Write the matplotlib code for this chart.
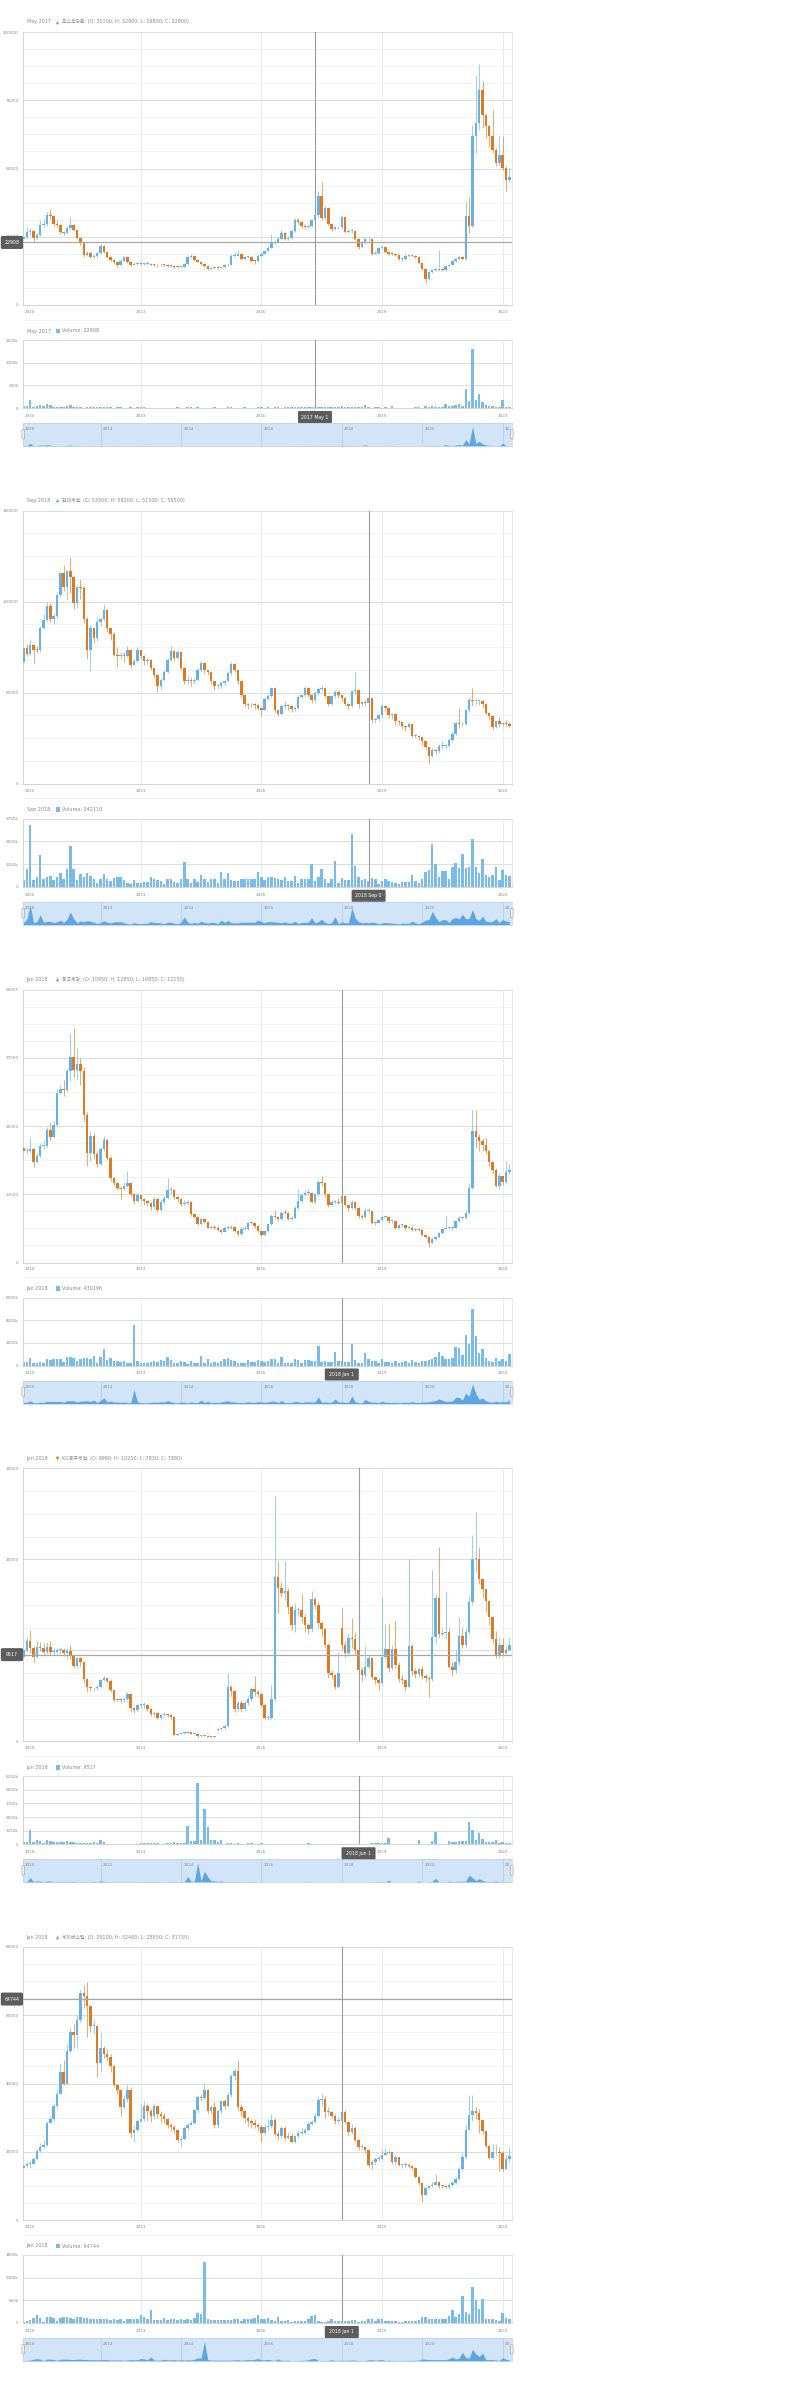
import matplotlib.pyplot as plt
import numpy as np
from matplotlib.patches import FancyBboxPatch, Rectangle

plt.rcParams['font.family'] = ['DejaVu Sans', 'Noto Sans CJK KR']

# monthly candles Feb 2010 .. Mar 2022, prices in thousand won, volume in thousand shares
# opens follow the previous month's close unless listed in *_gaps

posco_first_open = 24.0
posco_gaps = {}
posco_close = [24.9, 26.7, 27.2, 24.5, 25.7, 29.4, 29.7, 33.0, 32.5, 29.8,
               29.4, 26.6, 26.3, 28.1, 29.3, 27.6, 24.5, 22.7, 18.4, 19.0,
               17.6, 18.0, 19.0, 21.5, 19.3, 17.6, 16.6, 15.6, 14.5, 16.3,
               17.5, 15.8, 14.8, 15.0, 15.1, 15.0, 15.0, 15.2, 14.8, 14.7,
               14.5, 14.8, 14.7, 14.3, 14.2, 14.0, 13.8, 14.0, 15.0, 17.6,
               17.8, 16.6, 15.9, 15.1, 14.4, 13.2, 13.5, 13.8, 13.7, 13.8,
               14.5, 14.8, 18.0, 18.1, 18.8, 16.9, 17.6, 17.7, 16.2, 16.0,
               18.0, 18.8, 19.7, 20.9, 22.7, 23.0, 24.2, 26.4, 24.2, 24.4,
               27.0, 31.2, 30.3, 28.8, 28.6, 28.8, 31.1, 32.9, 40.0, 31.9,
               35.5, 29.8, 27.8, 28.4, 28.4, 32.1, 26.7, 27.0, 27.2, 24.2,
               21.2, 22.7, 24.0, 24.2, 18.8, 19.0, 20.9, 21.1, 19.3, 18.8,
               18.6, 18.3, 16.8, 16.8, 18.0, 18.0, 18.0, 17.5, 15.4, 13.2,
               9.5, 12.0, 12.7, 12.8, 12.9, 12.8, 14.2, 14.8, 16.0, 16.8,
               17.6, 16.8, 32.7, 28.8, 62.0, 66.7, 78.6, 69.7, 65.4, 61.8,
               56.9, 52.0, 55.0, 50.2, 45.7, 46.9]
posco_high = [26.0, 28.5, 28.2, 27.6, 26.3, 31.0, 31.5, 34.2, 35.0, 33.0,
              31.0, 29.8, 27.2, 28.8, 32.3, 29.8, 28.0, 25.0, 23.0, 19.8,
              19.3, 18.5, 19.5, 22.5, 21.8, 19.6, 17.9, 17.0, 15.9, 16.8,
              18.0, 17.8, 16.0, 15.6, 15.6, 15.5, 15.4, 15.7, 15.5, 15.1,
              15.0, 15.3, 15.2, 15.0, 14.6, 14.5, 14.3, 14.4, 15.5, 18.2,
              18.5, 18.2, 17.0, 16.2, 15.4, 14.7, 13.9, 14.2, 14.3, 14.2,
              14.9, 15.3, 18.6, 19.3, 20.0, 19.2, 18.1, 18.3, 18.0, 16.6,
              18.5, 19.4, 20.3, 21.5, 26.0, 23.8, 24.8, 27.5, 26.8, 25.2,
              28.0, 32.0, 31.8, 30.8, 29.5, 29.5, 31.5, 32.9, 41.6, 44.9,
              36.5, 35.8, 30.0, 29.0, 29.0, 33.0, 32.3, 27.8, 28.3, 27.5,
              24.5, 23.3, 24.8, 25.0, 24.3, 19.8, 21.3, 21.8, 21.3, 19.6,
              19.4, 18.9, 18.5, 17.4, 18.6, 18.6, 18.5, 18.3, 17.6, 15.6,
              13.4, 12.6, 13.2, 13.3, 20.3, 13.3, 14.6, 15.2, 16.5, 17.3,
              18.2, 18.0, 38.0, 39.5, 66.0, 84.4, 88.3, 82.2, 70.0, 66.0,
              71.5, 57.5, 62.0, 62.0, 50.8, 50.2]
posco_low = [23.5, 24.5, 25.8, 23.0, 24.0, 25.2, 28.5, 29.0, 31.5, 29.0,
             28.6, 26.0, 25.5, 26.0, 27.8, 27.0, 24.0, 22.0, 17.6, 17.8,
             17.2, 17.3, 17.7, 18.8, 19.0, 17.2, 16.2, 15.2, 14.0, 14.2,
             16.0, 15.4, 14.4, 14.5, 14.7, 14.6, 14.6, 14.8, 14.5, 14.3,
             14.1, 14.2, 14.3, 13.9, 13.8, 13.6, 13.4, 13.5, 13.8, 14.8,
             17.2, 16.3, 15.6, 14.8, 14.0, 12.9, 13.0, 13.3, 13.3, 13.4,
             13.6, 14.3, 14.6, 17.5, 17.8, 16.5, 16.6, 17.2, 15.8, 15.0,
             15.8, 17.7, 18.6, 20.5, 22.0, 22.5, 23.6, 24.0, 23.8, 23.7,
             24.0, 26.8, 29.8, 28.3, 28.0, 28.2, 28.5, 29.8, 32.0, 31.0,
             31.5, 29.2, 27.2, 27.5, 27.8, 28.0, 26.2, 26.3, 26.5, 23.7,
             20.6, 21.0, 22.5, 23.6, 18.2, 18.5, 18.7, 20.5, 19.0, 18.4,
             18.2, 17.9, 16.4, 16.3, 16.5, 17.5, 17.6, 17.1, 15.0, 12.8,
             8.1, 9.3, 11.8, 12.3, 12.4, 12.4, 12.6, 14.0, 14.6, 15.7,
             16.6, 16.4, 16.6, 26.5, 28.5, 55.7, 64.0, 65.0, 61.0, 58.0,
             55.5, 51.0, 51.0, 49.5, 41.9, 45.5]
posco_vol = [37, 37, 169, 22, 37, 74, 51, 88, 59, 22,
             22, 22, 22, 44, 59, 22, 22, 15, 10, 12,
             15, 20, 15, 22, 15, 12, 15, 10, 22, 12,
             10, 10, 12, 10, 15, 12, 29, 10, 8, 10,
             8, 10, 8, 10, 8, 10, 12, 10, 8, 20,
             12, 10, 15, 10, 8, 10, 8, 12, 10, 8,
             10, 12, 22, 10, 8, 10, 12, 8, 10, 10,
             12, 15, 10, 12, 10, 15, 12, 10, 12, 15,
             18, 29, 15, 20, 22, 25, 28, 23, 30, 25,
             22, 20, 28, 18, 22, 51, 15, 22, 18, 15,
             20, 18, 74, 15, 10, 12, 15, 10, 12, 10,
             37, 10, 8, 10, 8, 10, 8, 12, 15, 10,
             51, 30, 37, 30, 33, 25, 96, 37, 37, 66,
             96, 50, 426, 147, 1301, 169, 316, 132, 66, 44,
             37, 30, 22, 184, 29, 15]

hyundai_first_open = 80.0
hyundai_gaps = {}
hyundai_close = [89.6, 85.8, 91.8, 88.5, 88.0, 102.7, 108.2, 117.0, 108.7, 110.4,
                 124.7, 138.9, 129.7, 140.0, 136.3, 119.2, 129.7, 129.0, 108.7, 88.5,
                 102.7, 96.1, 106.5, 108.7, 114.4, 102.7, 99.0, 85.2, 84.1, 85.2,
                 84.1, 88.5, 78.6, 80.8, 88.5, 84.1, 80.8, 81.4, 76.4, 72.0,
                 64.3, 68.7, 73.5, 81.9, 87.4, 83.0, 86.9, 76.4, 67.6, 68.7,
                 67.6, 68.7, 74.8, 79.7, 74.8, 73.5, 67.6, 64.3, 64.3, 66.1,
                 67.6, 73.1, 79.2, 74.8, 67.6, 58.2, 52.9, 51.6, 52.2, 51.8,
                 50.0, 48.9, 56.0, 57.7, 63.2, 48.9, 45.7, 51.1, 51.6, 51.1,
                 49.4, 50.0, 57.3, 58.2, 63.2, 58.8, 55.1, 59.9, 62.6, 63.2,
                 57.7, 52.9, 57.7, 60.4, 58.2, 56.6, 52.9, 51.1, 61.0, 61.7,
                 52.9, 54.0, 53.3, 56.5, 41.9, 42.4, 45.0, 51.1, 50.0, 45.0,
                 45.7, 41.3, 40.6, 38.0, 37.5, 39.1, 31.8, 31.8, 30.9, 28.1,
                 24.1, 18.2, 22.2, 21.5, 25.2, 25.2, 25.2, 28.8, 32.5, 40.2,
                 39.1, 39.5, 48.5, 55.5, 54.4, 54.4, 54.4, 52.9, 46.8, 44.6,
                 37.5, 41.3, 39.1, 40.2, 39.5, 38.4]
hyundai_high = [92.0, 92.2, 95.5, 92.0, 91.0, 104.0, 112.0, 120.0, 119.5, 112.0,
                126.0, 139.5, 144.4, 141.0, 149.5, 137.0, 131.0, 135.0, 130.5, 110.0,
                104.5, 102.0, 110.0, 110.0, 118.5, 115.0, 103.0, 100.0, 90.0, 87.0,
                87.0, 91.0, 89.0, 82.5, 90.0, 88.5, 85.0, 83.0, 82.0, 76.0,
                72.5, 70.0, 75.0, 83.0, 90.5, 88.0, 88.5, 87.0, 77.0, 72.0,
                70.5, 69.5, 76.5, 81.0, 80.0, 75.0, 74.0, 68.0, 65.5, 67.5,
                68.5, 74.5, 80.5, 79.5, 75.0, 68.0, 58.5, 53.5, 53.5, 53.0,
                52.5, 50.5, 57.0, 59.0, 64.0, 63.5, 49.5, 52.5, 54.5, 52.5,
                51.8, 51.0, 58.5, 59.5, 64.5, 63.5, 59.5, 61.0, 64.0, 65.0,
                63.5, 58.0, 58.5, 61.5, 61.0, 58.5, 57.0, 53.5, 62.0, 73.8,
                62.0, 54.8, 55.0, 58.2, 56.0, 43.5, 45.8, 52.5, 51.5, 50.5,
                46.5, 46.0, 42.0, 41.0, 38.5, 40.0, 39.5, 32.5, 32.0, 31.0,
                28.5, 24.5, 23.5, 23.0, 26.5, 28.0, 26.5, 30.0, 34.0, 41.5,
                50.0, 41.0, 49.5, 56.5, 63.2, 56.0, 55.5, 55.0, 53.5, 47.5,
                45.0, 42.0, 44.0, 41.0, 42.0, 40.5]
hyundai_low = [77.5, 84.5, 85.0, 79.7, 86.5, 87.0, 102.0, 107.0, 106.5, 105.0,
               109.0, 123.0, 127.0, 121.0, 126.0, 115.0, 116.0, 122.0, 106.0, 82.0,
               74.2, 93.0, 94.0, 104.0, 107.0, 100.0, 95.0, 84.0, 77.0, 82.0,
               80.0, 83.5, 76.5, 78.0, 80.0, 82.0, 78.0, 79.0, 75.0, 70.0,
               60.5, 62.5, 67.5, 73.0, 81.0, 81.0, 82.0, 75.0, 66.0, 66.0,
               64.5, 66.0, 68.0, 74.0, 73.0, 71.5, 66.0, 61.5, 62.5, 63.0,
               65.0, 67.0, 72.0, 73.5, 66.0, 57.0, 51.0, 49.5, 50.0, 49.5,
               48.5, 44.5, 48.5, 55.0, 57.0, 47.5, 44.5, 45.0, 49.5, 48.5,
               47.5, 48.0, 49.0, 56.5, 57.5, 57.5, 53.0, 54.0, 58.5, 61.0,
               56.5, 51.5, 52.0, 56.5, 56.5, 54.5, 51.5, 49.0, 50.5, 59.5,
               50.0, 51.5, 51.0, 51.5, 40.0, 40.0, 41.5, 44.0, 48.0, 43.5,
               43.0, 39.0, 38.5, 36.0, 35.0, 36.5, 30.0, 30.0, 29.0, 25.5,
               22.5, 12.7, 17.5, 19.5, 20.5, 23.0, 23.5, 24.5, 28.0, 32.0,
               37.0, 37.5, 38.5, 47.0, 51.5, 52.0, 52.0, 50.0, 45.0, 43.0,
               36.0, 36.5, 37.5, 38.0, 38.5, 37.5]
hyundai_vol = [368, 993, 3400, 368, 551, 1728, 441, 551, 588, 368,
               533, 772, 404, 956, 2242, 993, 368, 680, 515, 735,
               588, 441, 221, 404, 680, 441, 312, 496, 515, 551,
               349, 184, 129, 368, 221, 184, 257, 257, 551, 404,
               368, 294, 165, 441, 441, 257, 184, 404, 1378, 441,
               221, 404, 257, 625, 404, 276, 404, 404, 184, 809,
               404, 735, 349, 312, 312, 441, 441, 441, 441, 441,
               827, 533, 368, 551, 533, 478, 441, 349, 515, 312,
               312, 588, 221, 404, 404, 441, 1231, 331, 551, 956,
               404, 221, 404, 1397, 184, 496, 349, 349, 2922, 1140,
               515, 349, 404, 342, 478, 404, 129, 312, 404, 331,
               276, 221, 129, 276, 257, 257, 625, 331, 184, 441,
               827, 900, 2334, 1268, 551, 882, 882, 404, 1084, 1287,
               1011, 1820, 1048, 1066, 2647, 1066, 735, 1507, 625, 515,
               625, 1066, 386, 900, 625, 600]

dongkuk_first_open = 21.0
dongkuk_gaps = {}
dongkuk_close = [20.4, 20.4, 20.7, 18.4, 19.5, 21.3, 21.4, 24.2, 23.0, 25.2,
                 31.1, 31.8, 31.6, 35.0, 37.7, 35.2, 36.4, 35.0, 27.1, 20.1,
                 23.2, 19.9, 18.1, 20.7, 22.4, 19.2, 15.5, 14.6, 13.7, 13.4,
                 14.1, 14.6, 12.5, 11.3, 12.3, 11.6, 11.3, 10.9, 10.2, 11.6,
                 9.7, 11.1, 11.9, 13.3, 13.3, 12.0, 11.6, 10.8, 10.9, 11.1,
                 8.8, 8.4, 7.0, 8.0, 7.4, 6.4, 6.5, 6.4, 6.0, 5.6,
                 6.4, 6.4, 6.5, 5.8, 5.2, 6.2, 6.2, 7.2, 7.2, 6.7,
                 5.8, 5.0, 5.8, 7.0, 8.6, 8.4, 8.0, 9.1, 9.0, 8.0,
                 8.2, 9.9, 11.3, 12.3, 12.7, 12.8, 11.1, 12.5, 14.7, 14.5,
                 12.5, 10.6, 11.1, 11.1, 10.95, 12.15, 10.5, 10.0, 11.0, 10.0,
                 8.5, 8.4, 9.4, 9.4, 7.2, 7.3, 7.8, 8.4, 8.4, 7.6,
                 7.6, 6.4, 6.8, 6.8, 6.4, 6.4, 6.0, 6.1, 6.0, 5.0,
                 4.7, 3.6, 4.3, 4.6, 5.4, 6.2, 6.4, 6.4, 6.4, 7.6,
                 8.2, 8.2, 9.1, 13.7, 24.0, 23.0, 22.2, 21.6, 20.4, 18.4,
                 17.0, 14.1, 15.9, 14.7, 16.5, 16.9]
dongkuk_high = [21.2, 21.0, 22.8, 21.0, 20.0, 21.8, 22.4, 24.8, 25.8, 26.0,
                31.8, 32.5, 33.5, 35.7, 42.1, 42.9, 39.3, 37.5, 35.8, 27.5,
                24.0, 23.8, 20.5, 21.2, 23.2, 22.6, 19.5, 15.6, 14.8, 14.0,
                14.8, 16.8, 14.8, 12.8, 12.8, 12.4, 11.8, 11.4, 11.0, 12.0,
                11.8, 11.6, 12.2, 15.5, 13.8, 13.4, 12.2, 11.8, 11.4, 11.5,
                11.2, 8.9, 8.5, 8.3, 8.1, 7.6, 6.8, 6.8, 6.7, 6.2,
                6.6, 6.8, 6.8, 6.7, 6.0, 6.5, 6.6, 7.5, 7.6, 7.4,
                6.9, 6.0, 6.0, 7.3, 8.9, 9.6, 8.5, 9.5, 9.8, 9.2,
                8.6, 10.3, 13.4, 12.8, 13.2, 13.5, 12.9, 12.8, 15.2, 15.8,
                14.8, 12.7, 11.4, 11.4, 11.8, 12.85, 12.4, 10.8, 11.5, 11.3,
                10.1, 8.8, 9.9, 9.9, 9.5, 7.6, 8.0, 8.7, 8.7, 8.5,
                7.9, 7.7, 7.0, 7.0, 6.9, 6.7, 6.7, 6.4, 6.3, 6.2,
                5.1, 4.8, 4.6, 4.9, 5.6, 6.4, 8.7, 6.7, 6.7, 7.8,
                8.5, 8.5, 9.6, 14.5, 28.0, 27.9, 23.5, 22.8, 23.0, 20.6,
                18.6, 17.3, 16.4, 15.8, 18.5, 18.0]
dongkuk_low = [18.8, 19.9, 20.1, 17.5, 18.3, 19.3, 20.8, 21.2, 22.5, 22.8,
               25.0, 30.8, 30.5, 31.3, 33.3, 34.0, 33.5, 32.5, 26.0, 17.6,
               18.6, 19.2, 17.4, 17.9, 20.4, 18.8, 15.0, 14.2, 13.3, 11.7,
               13.2, 13.9, 12.1, 10.8, 11.1, 11.2, 10.6, 10.3, 9.6, 9.8,
               9.3, 9.4, 10.8, 11.7, 12.8, 11.7, 11.0, 10.4, 10.5, 10.6,
               8.6, 8.1, 6.9, 6.8, 7.2, 6.3, 6.2, 6.2, 5.8, 5.4,
               5.5, 6.2, 6.2, 5.6, 4.9, 5.1, 5.9, 6.0, 7.0, 6.4,
               5.6, 4.8, 4.8, 5.6, 6.8, 8.0, 7.6, 7.8, 8.8, 7.8,
               7.8, 8.0, 9.8, 11.1, 12.2, 12.4, 10.9, 10.8, 12.2, 14.0,
               12.0, 10.2, 10.4, 10.8, 10.7, 10.85, 10.3, 9.5, 9.8, 9.7,
               8.2, 8.0, 8.1, 9.0, 7.0, 6.9, 7.2, 7.6, 8.2, 7.3,
               7.3, 6.2, 6.2, 6.5, 6.0, 6.2, 5.8, 5.8, 5.7, 4.8,
               4.4, 2.9, 3.5, 4.2, 4.5, 5.2, 6.0, 6.1, 6.0, 6.3,
               7.5, 7.8, 8.0, 8.9, 13.5, 21.0, 20.5, 20.5, 19.8, 17.6,
               16.4, 13.8, 13.5, 14.2, 14.4, 16.2]
dongkuk_vol = [296, 296, 680, 177, 177, 325, 236, 591, 473, 532,
               532, 532, 325, 709, 709, 680, 384, 591, 650, 680,
               532, 857, 236, 769, 1478, 443, 621, 384, 384, 325,
               384, 236, 177, 3577, 384, 236, 177, 177, 296, 384,
               296, 473, 384, 769, 443, 177, 177, 355, 296, 148,
               384, 236, 236, 857, 236, 591, 177, 296, 236, 384,
               591, 680, 443, 384, 236, 236, 236, 473, 296, 296,
               473, 414, 296, 414, 591, 591, 236, 769, 236, 236,
               236, 532, 473, 236, 443, 443, 384, 414, 1714, 296,
               414, 296, 325, 1182, 384, 430, 296, 296, 1921, 443,
               236, 177, 1064, 532, 355, 355, 177, 591, 296, 296,
               236, 355, 177, 296, 355, 236, 502, 296, 236, 355,
               384, 473, 591, 769, 1182, 828, 532, 591, 650, 1596,
               1567, 887, 2690, 1862, 5025, 2572, 1064, 1419, 680, 414,
               296, 621, 355, 532, 414, 975]

kg_first_open = 9.3
kg_gaps = {59: 1.2, 96: 12.5}
kg_close = [10.0, 11.0, 10.2, 9.3, 10.4, 10.2, 9.8, 10.4, 9.8, 9.8,
            10.0, 10.0, 9.7, 9.9, 9.4, 8.3, 9.1, 8.7, 6.8, 6.0,
            5.8, 5.8, 6.0, 6.7, 6.9, 6.6, 5.6, 4.5, 4.6, 4.5,
            4.6, 5.2, 3.7, 3.4, 4.0, 4.0, 4.0, 3.5, 3.0, 3.1,
            2.6, 2.9, 3.0, 2.9, 2.7, 0.73, 0.84, 0.91, 0.91, 1.0,
            0.84, 0.84, 0.55, 0.62, 0.62, 0.48, 0.44, 0.44, 1.3, 1.5,
            1.7, 6.0, 5.5, 3.5, 4.2, 3.5, 4.2, 4.6, 5.7, 5.4,
            5.2, 4.0, 2.6, 2.6, 4.6, 18.1, 16.8, 16.3, 16.5, 14.8,
            12.8, 14.4, 14.4, 13.7, 12.8, 12.3, 15.6, 15.0, 13.0, 12.3,
            10.6, 7.5, 7.3, 6.0, 7.5, 10.6, 9.7, 11.3, 11.2, 9.99,
            7.88, 7.3, 8.2, 9.1, 7.1, 6.7, 6.4, 9.3, 10.1, 8.0,
            10.1, 8.4, 6.8, 6.7, 6.0, 10.5, 7.7, 7.4, 7.9, 7.2,
            7.0, 6.8, 11.5, 15.7, 11.8, 11.9, 12.0, 8.2, 7.8, 8.7,
            11.6, 10.6, 12.0, 15.3, 20.0, 20.0, 17.8, 16.7, 15.4, 13.7,
            11.2, 9.5, 10.6, 9.7, 10.0, 10.6]
kg_high = [10.8, 11.5, 12.2, 10.5, 11.0, 10.9, 10.8, 10.9, 11.0, 10.2,
           10.3, 10.3, 10.2, 10.3, 10.6, 9.5, 9.3, 9.3, 8.8, 6.9,
           6.0, 6.0, 6.2, 6.8, 7.2, 7.0, 6.8, 5.7, 4.8, 4.8,
           4.9, 5.4, 5.3, 3.8, 4.1, 4.2, 4.3, 4.1, 3.6, 3.3,
           3.2, 3.0, 3.2, 3.1, 3.0, 2.8, 0.95, 1.0, 1.05, 1.1,
           1.05, 0.95, 0.9, 0.7, 0.7, 0.65, 0.52, 0.5, 1.5, 1.6,
           1.9, 7.5, 6.2, 5.6, 4.4, 4.5, 4.4, 5.0, 6.0, 7.2,
           5.6, 5.3, 4.1, 2.9, 6.2, 27.0, 19.8, 17.5, 19.8, 16.8,
           15.0, 15.2, 14.8, 16.2, 14.0, 13.0, 16.5, 15.8, 15.3, 13.2,
           12.5, 10.8, 7.8, 7.4, 9.8, 14.8, 11.0, 11.8, 13.5, 12.0,
           10.25, 8.2, 10.5, 9.5, 9.3, 7.1, 6.9, 15.8, 12.9, 13.0,
           10.6, 13.2, 8.7, 7.3, 6.5, 20.0, 10.7, 8.0, 8.0, 8.3,
           7.4, 7.2, 18.8, 16.2, 21.4, 12.4, 16.5, 12.4, 8.7, 10.0,
           13.7, 12.6, 12.4, 16.0, 22.7, 25.2, 21.3, 17.7, 16.3, 14.3,
           12.0, 12.1, 11.5, 11.4, 10.5, 11.3]
kg_low = [9.0, 9.8, 9.7, 8.7, 9.1, 9.9, 9.4, 9.6, 9.5, 9.5,
          9.6, 9.6, 9.4, 9.0, 9.0, 8.0, 8.1, 8.3, 6.4, 5.4,
          5.5, 5.5, 5.6, 5.9, 6.6, 6.4, 5.4, 4.3, 4.3, 4.2,
          4.3, 4.4, 3.2, 3.1, 3.3, 3.7, 3.7, 3.3, 2.8, 2.8,
          2.4, 2.5, 2.8, 2.7, 2.5, 0.65, 0.68, 0.8, 0.8, 0.85,
          0.75, 0.78, 0.5, 0.5, 0.55, 0.42, 0.4, 0.38, 1.1, 1.25,
          1.4, 1.6, 5.0, 3.2, 3.3, 3.2, 3.3, 4.0, 4.4, 5.0,
          4.9, 3.8, 2.4, 2.3, 2.5, 4.4, 14.1, 15.8, 15.5, 14.0,
          12.2, 12.0, 13.8, 13.0, 12.0, 11.8, 12.0, 14.5, 12.5, 11.6,
          10.2, 7.0, 6.8, 5.7, 5.8, 10.0, 9.3, 9.4, 10.3, 9.5,
          7.83, 6.6, 7.0, 7.9, 6.8, 6.3, 5.6, 6.2, 9.0, 7.6,
          7.8, 8.0, 6.5, 6.3, 5.5, 5.8, 7.2, 6.9, 7.1, 6.8,
          6.5, 4.9, 6.6, 10.7, 11.4, 11.6, 11.3, 8.0, 7.2, 7.5,
          8.4, 10.2, 10.3, 11.8, 15.0, 18.6, 17.3, 15.7, 14.2, 12.8,
          10.8, 9.2, 9.2, 9.4, 9.5, 10.2]
kg_vol = [184, 184, 1348, 184, 429, 306, 123, 368, 337, 184,
          245, 245, 184, 276, 245, 245, 123, 92, 123, 123,
          123, 245, 123, 429, 184, 61, 50, 45, 40, 45,
          50, 40, 45, 50, 61, 92, 92, 92, 92, 92,
          92, 61, 61, 123, 123, 184, 123, 123, 123, 1716,
          276, 276, 5638, 368, 3278, 1593, 429, 398, 184, 429,
          31, 123, 123, 61, 123, 61, 61, 92, 123, 61,
          61, 92, 40, 30, 30, 30, 25, 25, 20, 25,
          20, 25, 30, 25, 20, 92, 25, 20, 25, 30,
          25, 30, 20, 30, 30, 30, 30, 30, 25, 20,
          9.5, 20, 15, 30, 92, 92, 92, 92, 123, 582,
          30, 25, 30, 30, 25, 30, 30, 30, 368, 30,
          30, 40, 276, 1134, 61, 50, 61, 337, 184, 184,
          276, 276, 306, 2022, 1348, 429, 1042, 521, 214, 214,
          184, 368, 123, 184, 123, 100]

seah_first_open = 15.2
seah_gaps = {}
seah_close = [15.9, 16.5, 16.5, 17.9, 20.1, 21.3, 22.1, 28.4, 29.6, 33.5,
              37.0, 43.3, 40.0, 49.4, 55.0, 54.3, 58.7, 66.5, 65.7, 62.8,
              56.8, 56.9, 46.0, 50.4, 48.7, 47.8, 45.0, 39.7, 38.2, 33.1,
              35.5, 38.2, 25.5, 26.3, 28.9, 29.6, 33.5, 31.8, 30.4, 33.5,
              31.2, 30.4, 29.6, 27.9, 27.3, 26.3, 23.5, 23.7, 27.0, 27.9,
              28.4, 32.1, 36.0, 35.7, 38.0, 31.8, 33.1, 27.9, 31.8, 34.8,
              33.5, 36.7, 42.1, 43.6, 33.1, 31.8, 29.9, 28.9, 28.4, 27.9,
              27.3, 25.5, 27.3, 27.6, 29.4, 25.3, 24.7, 27.0, 24.0, 24.7,
              23.0, 24.5, 25.5, 25.5, 26.3, 28.2, 28.6, 30.6, 35.1, 35.5,
              31.6, 31.6, 30.4, 28.9, 29.1, 31.75, 28.6, 25.7, 27.0, 23.5,
              21.3, 21.3, 20.4, 16.2, 16.9, 17.9, 17.9, 19.1, 19.6, 19.8,
              16.9, 18.5, 16.2, 16.2, 16.2, 15.7, 15.2, 12.6, 10.8, 7.4,
              9.4, 9.9, 10.4, 11.0, 9.9, 9.9, 9.7, 10.4, 10.8, 12.0,
              14.9, 18.5, 26.3, 30.9, 31.8, 31.4, 29.4, 26.0, 21.6, 18.2,
              19.8, 19.8, 19.6, 14.9, 17.9, 18.7]
seah_high = [16.8, 17.0, 17.5, 18.5, 20.8, 22.5, 23.5, 29.0, 30.5, 34.0,
             38.0, 46.0, 47.0, 51.5, 56.5, 57.5, 60.0, 67.5, 69.0, 69.7,
             63.0, 58.5, 56.8, 55.0, 51.0, 50.0, 48.5, 45.5, 40.0, 38.5,
             36.5, 39.5, 39.0, 27.5, 29.5, 34.0, 35.0, 34.0, 32.5, 34.0,
             33.5, 32.0, 31.5, 30.0, 28.5, 27.8, 26.5, 24.5, 27.5, 28.5,
             29.0, 32.5, 36.5, 37.0, 40.0, 38.5, 33.8, 34.5, 32.5, 35.0,
             35.5, 37.5, 42.8, 44.5, 47.0, 34.0, 32.0, 30.5, 29.5, 29.5,
             28.5, 27.8, 28.0, 29.5, 31.0, 29.8, 26.0, 27.5, 27.5, 25.8,
             25.5, 24.8, 26.5, 27.0, 27.0, 29.0, 29.3, 31.5, 36.0, 37.0,
             36.2, 33.0, 32.0, 31.0, 30.2, 32.4, 32.2, 28.8, 28.0, 27.5,
             23.8, 22.2, 21.8, 20.8, 17.5, 18.5, 19.0, 20.5, 21.2, 20.5,
             20.0, 19.2, 18.6, 16.8, 16.8, 16.6, 16.2, 15.5, 13.0, 11.2,
             9.8, 10.3, 11.0, 13.5, 11.2, 10.5, 10.3, 10.8, 11.5, 12.5,
             15.5, 19.5, 28.0, 36.6, 36.5, 33.0, 32.6, 28.5, 26.0, 22.0,
             22.2, 22.3, 21.5, 20.2, 19.0, 21.5]
seah_low = [15.0, 15.6, 15.2, 16.3, 17.5, 19.9, 21.2, 21.8, 28.8, 29.0,
            32.8, 37.0, 39.5, 40.0, 49.0, 50.5, 50.5, 58.0, 62.0, 53.5,
            55.0, 54.5, 42.0, 43.5, 47.5, 46.5, 43.5, 39.0, 37.0, 30.5,
            32.5, 34.5, 24.0, 23.0, 26.0, 28.6, 29.0, 29.0, 28.7, 29.5,
            30.0, 28.5, 28.5, 27.0, 26.2, 25.5, 22.8, 21.5, 23.5, 26.5,
            27.8, 28.0, 31.5, 34.8, 35.5, 31.2, 31.0, 27.0, 27.0, 31.0,
            32.5, 33.0, 36.0, 41.0, 32.0, 30.5, 28.5, 27.5, 27.0, 27.0,
            26.0, 23.0, 24.8, 26.5, 27.0, 24.5, 23.5, 24.0, 23.5, 23.8,
            22.5, 22.5, 24.0, 24.8, 25.2, 26.0, 27.8, 28.3, 30.2, 33.5,
            30.0, 30.5, 29.8, 28.0, 28.3, 28.55, 28.0, 25.0, 25.3, 23.0,
            20.5, 20.5, 19.6, 15.5, 15.0, 16.5, 17.2, 17.5, 19.0, 19.3,
            16.5, 16.0, 15.8, 15.3, 15.5, 15.2, 14.6, 12.2, 10.3, 5.2,
            7.2, 9.2, 9.7, 10.3, 9.5, 9.3, 9.3, 9.2, 10.1, 10.5,
            11.8, 14.5, 18.0, 26.5, 29.0, 29.5, 25.5, 25.3, 21.0, 17.8,
            17.8, 18.8, 14.3, 14.3, 15.2, 17.0]
seah_vol = [35, 53, 79, 141, 203, 141, 26, 150, 150, 123,
            62, 141, 150, 150, 132, 115, 150, 150, 123, 132,
            97, 115, 97, 115, 115, 115, 79, 97, 79, 97,
            53, 97, 115, 97, 97, 203, 168, 97, 335, 79,
            71, 71, 141, 79, 97, 115, 71, 115, 71, 115,
            79, 141, 256, 247, 1614, 115, 79, 79, 79, 71,
            79, 71, 79, 97, 115, 53, 97, 115, 97, 141,
            203, 97, 97, 141, 71, 44, 168, 62, 53, 71,
            26, 44, 44, 62, 62, 97, 185, 203, 44, 35,
            35, 53, 115, 44, 62, 65, 62, 62, 79, 79,
            26, 44, 44, 97, 115, 62, 97, 115, 44, 62,
            53, 44, 35, 26, 53, 44, 62, 53, 79, 168,
            150, 115, 115, 115, 115, 115, 115, 185, 335, 168,
            229, 714, 291, 229, 961, 600, 362, 644, 115, 115,
            115, 79, 53, 273, 141, 100]

header_text = ['포스코강판: (O: 31100; H: 32900; L: 29800; C: 32900)',
               '현대제철: (O: 53300; H: 58200; L: 51500; C: 56500)',
               '동국제강: (O: 10950; H: 12850; L: 10850; C: 12150)',
               'KG동부제철: (O: 9990; H: 10250; L: 7830; C: 7880)',
               '세아베스틸: (O: 29100; H: 32400; L: 28550; C: 31750)']
cursor_dates = ['May 2017', 'Sep 2018', 'Jan 2018', 'Jun 2018', 'Jan 2018']
cursor_tips = ['2017 May 1', '2018 Sep 1', '2018 Jan 1', '2018 Jun 1', '2018 Jan 1']
cursor_month = [88, 104, 96, 101, 96]
cursor_up = [True, True, True, False, True]
cursor_volume = [22908, 342110, 430196, 9517, 64744]
cursor_value = [22908, None, None, 9517, 64744]
price_ticks = [[0, 25000, 50000, 75000, 100000],
               [0, 60000, 120000, 180000],
               [0, 12500, 25000, 37500, 50000],
               [0, 10000, 20000, 30000],
               [0, 20000, 40000, 60000, 80000]]
volume_ticks = [[0, 500, 1000, 1500],
                [0, 1250, 2500, 3750],
                [0, 2000, 4000, 6000],
                [0, 1250, 2500, 3750, 5000, 6250],
                [0, 600, 1200, 1800]]

series = [(posco_first_open, posco_gaps, posco_close, posco_high, posco_low, posco_vol),
          (hyundai_first_open, hyundai_gaps, hyundai_close, hyundai_high, hyundai_low, hyundai_vol),
          (dongkuk_first_open, dongkuk_gaps, dongkuk_close, dongkuk_high, dongkuk_low, dongkuk_vol),
          (kg_first_open, kg_gaps, kg_close, kg_high, kg_low, kg_vol),
          (seah_first_open, seah_gaps, seah_close, seah_high, seah_low, seah_vol)]

UP = '#66b1e6'
DOWN = '#e17920'
VOLC = '#79bbea'
TXT = '#8a8a8a'
W, H = 800, 2394
XL, XR = 23.3, 511.7
X_LO, X_HI = 2010.079, 2022.226
STEP = 478.75
PRICE_TOP, PRICE_BOT = 32, 305

fig = plt.figure(figsize=(8, 23.94), dpi=100)
fig.patch.set_facecolor('white')


def px_axes(x0, y0, x1, y1):
    return fig.add_axes([x0 / W, 1 - y1 / H, (x1 - x0) / W, (y1 - y0) / H])


def xpx(yr):
    return XL + (yr - X_LO) / (X_HI - X_LO) * (XR - XL)


def style(ax, ymax, ticks, labels):
    ax.set_xlim(X_LO, X_HI)
    ax.set_ylim(0, ymax)
    ax.set_xticks([])
    ax.set_yticks(ticks)
    ax.set_yticklabels(labels)
    ax.tick_params(axis='y', length=0, pad=3.4, labelsize=3.0, labelcolor=TXT)
    for s, col in [('left', '#cccccc'), ('bottom', '#cccccc'), ('top', '#dddddd'), ('right', '#e4e4e4')]:
        ax.spines[s].set_color(col)
        ax.spines[s].set_linewidth(0.6)
    for t in ticks:
        ax.axhline(t, color='#d8d8d8', lw=0.6, zorder=0.5)
    for yr in [2013, 2016, 2019, 2022]:
        ax.axvline(yr, color='#e8e8e8', lw=0.6, zorder=0.5)


crosses = []
for k, (first_open, gaps, close, high, low, vol) in enumerate(series):
    dy = k * STEP
    n = min(len(close), len(high), len(low), len(vol))
    dates = 2010 + np.arange(1, n + 1) / 12.0
    c = np.array(close[:n]) * 1000
    o = np.array([first_open] + list(close[:n - 1])) * 1000
    for m, v in gaps.items():
        o[m - 1] = v * 1000
    hi = np.maximum(np.array(high[:n]) * 1000, np.maximum(o, c))
    lo = np.minimum(np.array(low[:n]) * 1000, np.minimum(o, c))
    v = np.array(vol[:n]) * 1000
    cross = 2010 + cursor_month[k] / 12.0
    crosses.append(cross)

    # price panel
    ax = px_axes(XL, PRICE_TOP + dy, XR, PRICE_BOT + dy)
    ticks = price_ticks[k]
    ymax = ticks[-1]
    minor = (ticks[1] - ticks[0]) / 4
    for t in np.arange(minor, ymax, minor):
        ax.axhline(t, color='#efefef', lw=0.5, zorder=0.3)
    style(ax, ymax, ticks, [str(t) for t in ticks])
    cols = np.where(c >= o, UP, DOWN)
    ax.vlines(dates, lo, hi, colors=cols, lw=0.45, zorder=2)
    minh = ymax / 273 * 0.9
    ax.bar(dates, np.maximum(np.abs(c - o), minh), bottom=np.minimum(o, c),
           width=0.74 / 12, color=cols, linewidth=0, zorder=3)
    ax.axvline(cross, color='#9c9c9c', lw=0.8, zorder=4)
    if cursor_value[k] is not None:
        ax.axhline(cursor_value[k], color='#a8a8a8', lw=0.9, zorder=4)

    # volume panel
    vax = px_axes(XL, 340 + dy, XR, 408 + dy)
    vt = volume_ticks[k]
    style(vax, vt[-1] * 1000, [t * 1000 for t in vt], ['0' if t == 0 else '%dk' % t for t in vt])
    vax.bar(dates, v, width=0.74 / 12, color=VOLC, linewidth=0, zorder=2)
    vax.axvline(cross, color='#9c9c9c', lw=0.8, zorder=4)

    # navigator
    nax = px_axes(XL, 423 + dy, XR, 446 + dy)
    nax.set_facecolor('#d2e4f7')
    nax.set_xlim(X_LO, X_HI)
    nax.set_ylim(0, v.max() * 1.18)
    nax.set_xticks([])
    nax.set_yticks([])
    for s in nax.spines.values():
        s.set_color('#bcd2ec')
        s.set_linewidth(0.5)
    for yr in [2012, 2014, 2016, 2018, 2020, 2022]:
        nax.axvline(yr, color='#b7cce6', lw=0.6, zorder=1)
    nax.fill_between(dates, v, 0, color='#5ea6e2', lw=0, zorder=2)

# overlay in pixel coordinates for texts and boxes
ov = fig.add_axes([0, 0, 1, 1], zorder=10)
ov.set_xlim(0, W)
ov.set_ylim(H, 0)
ov.axis('off')

for k, cross in enumerate(crosses):
    dy = k * STEP
    fs = 3.5
    up = cursor_up[k]
    ov.text(26.7, 22 + dy, cursor_dates[k], fontsize=fs, color=TXT, va='center', ha='left')
    ov.plot(57.3, 21.6 + dy, marker='^' if up else 'v', ms=2.6, color=UP if up else DOWN, mew=0)
    ov.text(61.7, 22 + dy, header_text[k], fontsize=fs, color=TXT, va='center', ha='left')
    ov.text(26.7, 331 + dy, cursor_dates[k], fontsize=fs, color=TXT, va='center', ha='left')
    ov.add_patch(Rectangle((55.8, 328.6 + dy), 4.3, 4.8, fc=VOLC, ec='none'))
    ov.text(61.7, 331 + dy, 'Volume: %d' % cursor_volume[k], fontsize=fs, color=TXT, va='center', ha='left')

    # x labels under price and volume panels
    for row in (312, 416):
        for yr in [2010, 2013, 2016, 2019, 2022]:
            if yr == 2010:
                ov.text(25.0, row + dy, '2010', fontsize=3.0, color=TXT, ha='left', va='center')
            else:
                ov.text(xpx(yr), row + dy, str(yr), fontsize=3.0, color=TXT, ha='center', va='center')
    ov.plot([XL, XR], [319.5 + dy, 319.5 + dy], color='#efefef', lw=0.5)

    # navigator labels and handles
    ov.text(25.0, 429 + dy, '2010', fontsize=3.0, color=TXT, ha='left', va='center')
    for yr in [2012, 2014, 2016, 2018, 2020]:
        ov.text(xpx(yr) + 2.3, 429 + dy, str(yr), fontsize=3.0, color=TXT, ha='left', va='center')
    ov.text(xpx(2022) + 2.3, 429 + dy, '20', fontsize=3.0, color=TXT, ha='left', va='center')
    for hx in (XL, XR):
        ov.add_patch(FancyBboxPatch((hx - 1.4, 429.5 + dy), 2.8, 9.5,
                                    boxstyle='round,pad=0,rounding_size=1.2',
                                    fc='#efefef', ec='#9a9a9a', lw=0.4))

    # date tooltip under the volume panel
    cx = xpx(cross)
    ov.add_patch(FancyBboxPatch((cx - 17, 411 + dy), 34, 12, boxstyle='round,pad=0,rounding_size=1',
                                fc='#5c5c5c', ec='none'))
    ov.text(cx, 417 + dy, cursor_tips[k], fontsize=3.3, color='white', ha='center', va='center')

    # value box on the price axis
    if cursor_value[k] is not None:
        ymax = price_ticks[k][-1]
        yy = PRICE_BOT + dy - cursor_value[k] / ymax * (PRICE_BOT - PRICE_TOP)
        ov.add_patch(FancyBboxPatch((0.8, yy - 6.5), 22.2, 13, boxstyle='round,pad=0,rounding_size=1.5',
                                    fc='#5c5c5c', ec='none'))
        ov.text(12, yy, str(cursor_value[k]), fontsize=3.4, color='white', ha='center', va='center')

fig.savefig('out.png', dpi=100)
